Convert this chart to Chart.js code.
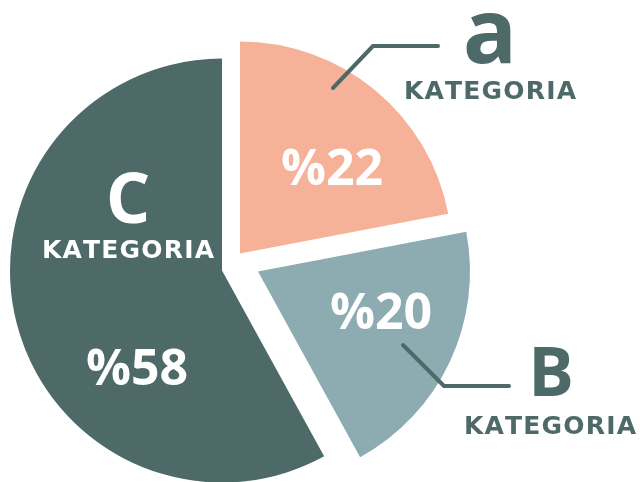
<!DOCTYPE html>
<html>
<head>
<meta charset="utf-8">
<script src="https://cdn.jsdelivr.net/npm/chart.js@4"></script>
<style>
html,body{margin:0;padding:0;background:#fff;}
#wrap{width:640px;height:482px;position:relative;}
</style>
</head>
<body>
<div id="wrap"><canvas id="c" width="640" height="482"></canvas></div>
<script>
const categories = ['a', 'B', 'C'];
const shares = [22, 20, 58];
const valueLabels = ['%22', '%20', '%58'];
const categoryWord = 'KATEGORIA';

const sliceColors = ['#F6B299', '#8DACB1', '#4D6A69'];
const darkText = '#4D6A69';
// explode shift of each slice (px)
const sliceShift = [[18, -17], [36, 1], [0, 0]];

const explodePlugin = {
  id: 'explode',
  afterUpdate(chart) {
    const meta = chart.getDatasetMeta(0);
    meta.data.forEach((arc, i) => {
      arc.x += sliceShift[i][0];
      arc.y += sliceShift[i][1];
    });
  }
};

function spaced(ctx, text, x, y, spacing) {
  const widths = [...text].map(ch => ctx.measureText(ch).width);
  const w = widths.reduce((a, b) => a + b, 0) + spacing * (text.length - 1);
  let cx = x - w / 2;
  ctx.textAlign = 'left';
  [...text].forEach((ch, i) => {
    ctx.fillText(ch, cx, y);
    cx += widths[i] + spacing;
  });
}

const labelPlugin = {
  id: 'labels',
  afterDatasetsDraw(chart) {
    const ctx = chart.ctx;
    const wordFont = '700 25px "DejaVu Sans"';
    ctx.save();
    ctx.textBaseline = 'alphabetic';
    ctx.textAlign = 'center';
    // value labels
    ctx.fillStyle = '#ffffff';
    ctx.font = '700 50px "Open Sans"';
    ctx.fillText(valueLabels[0], 332, 185);
    ctx.fillText(valueLabels[1], 381, 329);
    ctx.fillText(valueLabels[2], 137, 385);
    // C label (white)
    ctx.font = '700 70px "Open Sans"';
    ctx.fillText(categories[2], 128, 223);
    ctx.font = wordFont;
    spaced(ctx, categoryWord, 128, 258, 1.2);
    // A label
    ctx.fillStyle = darkText;
    ctx.textAlign = 'center';
    ctx.font = '700 90px "Open Sans"';
    ctx.fillText(categories[0], 490, 63);
    ctx.font = wordFont;
    spaced(ctx, categoryWord, 490, 99, 1.2);
    // B label
    ctx.textAlign = 'center';
    ctx.font = '700 68px "Open Sans"';
    ctx.fillText(categories[1], 551, 396);
    ctx.font = wordFont;
    spaced(ctx, categoryWord, 550, 434, 1.2);
    // leader lines
    ctx.strokeStyle = darkText;
    ctx.lineWidth = 4;
    ctx.lineCap = 'round';
    ctx.lineJoin = 'round';
    ctx.beginPath();
    ctx.moveTo(333, 88); ctx.lineTo(373, 46); ctx.lineTo(438, 46);
    ctx.stroke();
    ctx.beginPath();
    ctx.moveTo(403, 345); ctx.lineTo(444, 386); ctx.lineTo(509, 386);
    ctx.stroke();
    ctx.restore();
  }
};

new Chart(document.getElementById('c'), {
  type: 'pie',
  data: {
    labels: categories,
    datasets: [{
      data: shares,
      backgroundColor: sliceColors,
      borderWidth: 0,
      radius: 212,
      clip: false
    }]
  },
  options: {
    responsive: false,
    animation: false,
    events: [],
    layout: { padding: { top: 59, bottom: 0, left: 10, right: 206 } },
    plugins: { legend: { display: false }, tooltip: { enabled: false } }
  },
  plugins: [explodePlugin, labelPlugin]
});
</script>
</body>
</html>
